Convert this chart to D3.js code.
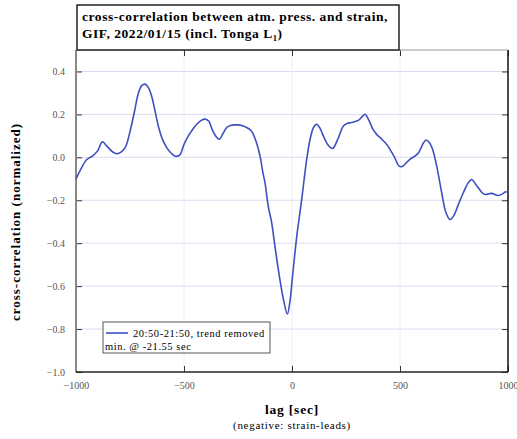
<!DOCTYPE html>
<html>
<head>
<meta charset="utf-8">
<script src="https://cdn.jsdelivr.net/npm/d3@7"></script>
<style>
  html, body { margin: 0; padding: 0; background: #fff; }
  svg { display: block; }
  text { font-family: "Liberation Serif", "DejaVu Serif", serif; }
</style>
</head>
<body>
<svg id="chart" width="517" height="439"></svg>
<script>
// Lag (seconds) of each sample of the cross-correlation
const lags = [
  -1000, -975, -950, -925, -900, -878, -855, -830, -811, -790,
  -770, -750, -730, -711, -695, -681, -665, -650, -635, -619,
  -600, -580, -560, -540, -520, -500, -480, -460, -441, -420,
  -403, -385, -370, -350, -336, -320, -302, -285, -265, -240,
  -210, -190, -179, -165, -148, -135, -125, -110, -95, -79,
  -56, -40, -21.55, -8, 0, 22, 45, 68, 85, 100,
  114, 130, 145, 165, 188, 210, 238, 255, 276, 307,
  325, 338, 355, 375, 392, 415, 438, 455, 475, 495,
  510, 530, 546, 569, 585, 605, 620, 635, 650, 670,
  693, 713, 731, 750, 770, 793, 815, 832, 850, 863,
  880, 894, 924, 955, 975, 986, 1000
];
// Normalized cross-correlation at each lag
const corr = [
  -0.10, -0.05, -0.01, 0.005, 0.03, 0.072, 0.05, 0.025, 0.017, 0.025,
  0.05, 0.12, 0.21, 0.30, 0.335, 0.341, 0.325, 0.286, 0.22, 0.146,
  0.085, 0.045, 0.02, 0.005, 0.01, 0.06, 0.10, 0.13, 0.154, 0.172,
  0.178, 0.168, 0.13, 0.095, 0.084, 0.11, 0.139, 0.148, 0.151, 0.15,
  0.139, 0.125, 0.107, 0.07, 0.006, -0.07, -0.118, -0.228, -0.30, -0.414,
  -0.57, -0.66, -0.73, -0.66, -0.58, -0.368, -0.196, -0.009, 0.09, 0.14,
  0.154, 0.135, 0.10, 0.06, 0.041, 0.08, 0.146, 0.158, 0.162, 0.172,
  0.19, 0.201, 0.175, 0.13, 0.107, 0.085, 0.061, 0.035, 0.0, -0.04,
  -0.043, -0.025, -0.009, 0.006, 0.02, 0.06, 0.081, 0.07, 0.04, -0.041,
  -0.165, -0.258, -0.29, -0.27, -0.22, -0.165, -0.12, -0.103, -0.125, -0.142,
  -0.165, -0.173, -0.168, -0.178, -0.17, -0.162, -0.16
];

const xTicks = [-1000, -500, 0, 500, 1000];
const yTicks = [0.4, 0.2, 0.0, -0.2, -0.4, -0.6, -0.8, -1.0];

const titleLines = [
  "cross-correlation between atm. press. and strain,",
  "GIF, 2022/01/15 (incl. Tonga L"
];
const legendLabel = "20:50-21:50, trend removed";
const legendNote = "min. @ -21.55 sec";

const svg = d3.select("#chart");
const m = { left: 76, right: 508, top: 50, bottom: 372 };

const x = d3.scaleLinear().domain([-1000, 1000]).range([m.left, m.right]);
const y = d3.scaleLinear().domain([-1.0, 0.5]).range([m.bottom, m.top]);

// grid
const grid = svg.append("g");
grid.selectAll(".gy").data(yTicks.filter(d => d > -1 && d < 0.5)).join("line")
  .attr("x1", m.left).attr("x2", m.right)
  .attr("y1", d => y(d)).attr("y2", d => y(d))
  .attr("stroke", "#dcdcf2").attr("stroke-width", 1);
grid.selectAll(".gx").data(xTicks.filter(d => d > -1000 && d < 1000)).join("line")
  .attr("y1", m.top).attr("y2", m.bottom)
  .attr("x1", d => x(d)).attr("x2", d => x(d))
  .attr("stroke", "#ececf6").attr("stroke-width", 1);

// axes with inward ticks on all four sides
const tickLen = 6;
svg.append("g").attr("transform", `translate(${m.left},0)`)
  .call(d3.axisLeft(y).tickValues(yTicks).tickSize(-tickLen).tickPadding(11)
    .tickFormat(d3.format(".1f")))
  .call(g => g.select(".domain").remove())
  .call(g => g.selectAll("text").attr("font-size", 10).attr("fill", "#555")
    .attr("font-family", "Liberation Serif"))
  .call(g => g.selectAll("line").attr("stroke", "#333"));
svg.append("g").attr("transform", `translate(${m.right},0)`)
  .call(d3.axisRight(y).tickValues(yTicks).tickSize(-tickLen).tickFormat(""))
  .call(g => g.select(".domain").remove())
  .call(g => g.selectAll("line").attr("stroke", "#333"));
svg.append("g").attr("transform", `translate(0,${m.bottom})`)
  .call(d3.axisBottom(x).tickValues(xTicks).tickSize(-tickLen).tickPadding(10)
    .tickFormat(d3.format("d")))
  .call(g => g.select(".domain").remove())
  .call(g => g.selectAll("text").attr("font-size", 10).attr("fill", "#555")
    .attr("font-family", "Liberation Serif"))
  .call(g => g.selectAll("line").attr("stroke", "#333"));
svg.append("g").attr("transform", `translate(0,${m.top})`)
  .call(d3.axisTop(x).tickValues(xTicks).tickSize(-tickLen).tickFormat(""))
  .call(g => g.select(".domain").remove())
  .call(g => g.selectAll("line").attr("stroke", "#333"));

// frame
svg.append("line").attr("x1", m.left).attr("x2", m.left).attr("y1", m.top).attr("y2", m.bottom)
  .attr("stroke", "#888").attr("stroke-width", 2);
svg.append("line").attr("x1", m.right).attr("x2", m.right).attr("y1", m.top).attr("y2", m.bottom)
  .attr("stroke", "#111").attr("stroke-width", 1.5);
svg.append("line").attr("x1", m.left).attr("x2", m.right).attr("y1", m.bottom).attr("y2", m.bottom)
  .attr("stroke", "#222").attr("stroke-width", 1.5);
svg.append("line").attr("x1", m.left).attr("x2", m.right).attr("y1", m.top).attr("y2", m.top)
  .attr("stroke", "#999").attr("stroke-width", 1.2);

// correlation curve
const pts = lags.map((l, i) => [l, corr[i]]);
svg.append("path").datum(pts)
  .attr("fill", "none").attr("stroke", "#3f4fc0").attr("stroke-width", 1.6)
  .attr("stroke-linejoin", "round")
  .attr("d", d3.line().x(d => x(d[0])).y(d => y(d[1])).curve(d3.curveCatmullRom.alpha(0.5)));

// title box
const tb = svg.append("g");
tb.append("rect").attr("x", 77).attr("y", 5).attr("width", 322).attr("height", m.top - 5)
  .attr("fill", "#fff").attr("stroke", "#222").attr("stroke-width", 1.5);
tb.append("text").attr("x", 82).attr("y", 21).attr("font-size", 13.5).attr("font-weight", "bold")
  .attr("letter-spacing", 0.55).text(titleLines[0]);
const t2 = tb.append("text").attr("x", 82).attr("y", 38).attr("font-size", 13.5).attr("font-weight", "bold")
  .attr("letter-spacing", 0.55);
t2.append("tspan").text(titleLines[1]);
t2.append("tspan").attr("font-size", 8.5).attr("dy", 3).text("1");
t2.append("tspan").attr("dy", -3).text(")");

// legend
const lg = svg.append("g");
lg.append("rect").attr("x", 103).attr("y", 322).attr("width", 167).attr("height", 31)
  .attr("fill", "#fff").attr("stroke", "#555").attr("stroke-width", 1);
lg.append("line").attr("x1", 106).attr("x2", 128).attr("y1", 333).attr("y2", 333)
  .attr("stroke", "#3f4fc0").attr("stroke-width", 1.6);
lg.append("text").attr("x", 133).attr("y", 336.5).attr("font-size", 10.5)
  .attr("letter-spacing", 0.55).text(legendLabel);
lg.append("text").attr("x", 105).attr("y", 349.5).attr("font-size", 10.5)
  .attr("letter-spacing", 0.55).text(legendNote);

// axis titles
svg.append("text").attr("transform", "translate(20,222) rotate(-90)")
  .attr("text-anchor", "middle").attr("font-size", 13).attr("font-weight", "bold")
  .attr("letter-spacing", 1).text("cross-correlation (normalized)");
svg.append("text").attr("x", x(0)).attr("y", 414).attr("text-anchor", "middle")
  .attr("font-size", 13.5).attr("font-weight", "bold").attr("letter-spacing", 0.8).text("lag [sec]");
svg.append("text").attr("x", x(0)).attr("y", 429).attr("text-anchor", "middle")
  .attr("font-size", 11).attr("letter-spacing", 0.7).text("(negative: strain-leads)");
</script>
</body>
</html>
